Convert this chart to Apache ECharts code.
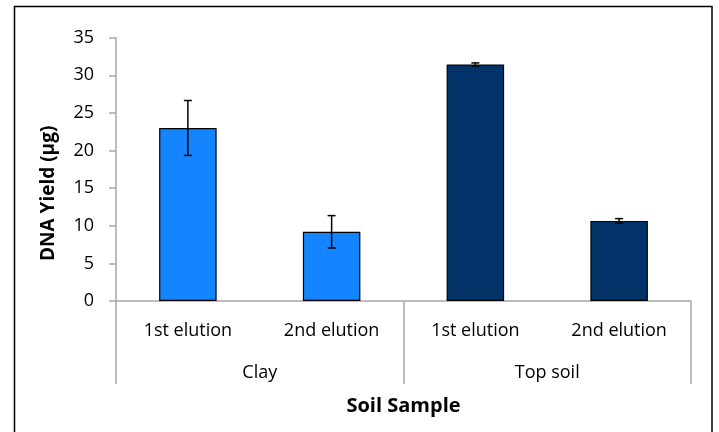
<!DOCTYPE html>
<html><head><meta charset="utf-8">
<script src="https://cdn.jsdelivr.net/npm/echarts@6/dist/echarts.min.js"></script>
<style>html,body{margin:0;padding:0;background:#fff}#c{width:719px;height:432px}</style>
</head><body><div id="c"></div>
<script>
const elutions = ['1st elution', '2nd elution', '1st elution', '2nd elution'];
const soils = ['Clay', 'Top soil'];
const yields = [23.0, 9.2, 31.45, 10.65];
const errors = [3.65, 2.15, 0.2, 0.3];
const barColorIdx = [0, 0, 1, 1];
const colorList = ['#1584ff', '#013369'];
const yTicks = { min: 0, max: 35, interval: 5 };

const font = "'Open Sans', 'Noto Sans', sans-serif";
const axisGray = '#a6a6a6';

const chart = echarts.init(document.getElementById('c'), null, { renderer: 'canvas' });
chart.setOption({
  animation: false,
  backgroundColor: '#fff',
  textStyle: { fontFamily: font },
  graphic: [{
    type: 'rect', shape: { x: 14.5, y: 6.5, width: 697.5, height: 440 },
    style: { fill: 'none', stroke: '#000', lineWidth: 1.5 }, silent: true, z: 0
  }],
  grid: { left: 116, right: 28, top: 37.7, bottom: 131 },
  xAxis: [{
    type: 'category', data: elutions, position: 'bottom',
    axisLine: { show: true, lineStyle: { color: axisGray, width: 1.5 } },
    axisTick: { show: false },
    axisLabel: { color: '#000', fontSize: 18, margin: 21, fontFamily: font }
  }, {
    type: 'category', data: soils, position: 'bottom',
    axisLine: { show: false },
    axisTick: { show: true, length: 83, lineStyle: { color: axisGray, width: 1.5 } },
    axisLabel: { color: '#000', fontSize: 18, margin: 63, fontFamily: font },
    name: 'Soil Sample', nameLocation: 'middle', nameGap: 95,
    nameTextStyle: { color: '#000', fontSize: 20, fontWeight: 'bold', fontFamily: font }
  }],
  yAxis: {
    type: 'value', min: yTicks.min, max: yTicks.max, interval: yTicks.interval,
    axisLine: { show: true, lineStyle: { color: axisGray, width: 1.5 } },
    axisTick: { show: true, length: 7, lineStyle: { color: axisGray, width: 1.5 } },
    splitLine: { show: false },
    axisLabel: { color: '#000', fontSize: 18, margin: 22, fontFamily: font },
    name: 'DNA Yield (µg)', nameLocation: 'middle', nameGap: 58, nameRotate: 90,
    nameTextStyle: { color: '#000', fontSize: 19, fontWeight: 'bold', fontFamily: font, padding: [0, 48, 0, 0] }
  },
  series: [{
    type: 'bar', xAxisIndex: 0, barWidth: '40%',
    data: yields.map((v, i) => ({ value: v, itemStyle: { color: colorList[barColorIdx[i]] } })),
    itemStyle: { borderColor: '#000', borderWidth: 1.2 },
    z: 2
  }, {
    type: 'custom', xAxisIndex: 0, z: 5,
    data: yields.map((v, i) => [i, v - errors[i], v + errors[i]]),
    renderItem: function (params, api) {
      const lo = api.coord([api.value(0), api.value(1)]);
      const hi = api.coord([api.value(0), api.value(2)]);
      const hw = 4;
      const st = { stroke: '#000', lineWidth: 1.5 };
      return { type: 'group', children: [
        { type: 'line', shape: { x1: hi[0], y1: hi[1], x2: lo[0], y2: lo[1] }, style: st },
        { type: 'line', shape: { x1: hi[0] - hw, y1: hi[1], x2: hi[0] + hw, y2: hi[1] }, style: st },
        { type: 'line', shape: { x1: lo[0] - hw, y1: lo[1], x2: lo[0] + hw, y2: lo[1] }, style: st }
      ]};
    }
  }]
});
</script></body></html>
